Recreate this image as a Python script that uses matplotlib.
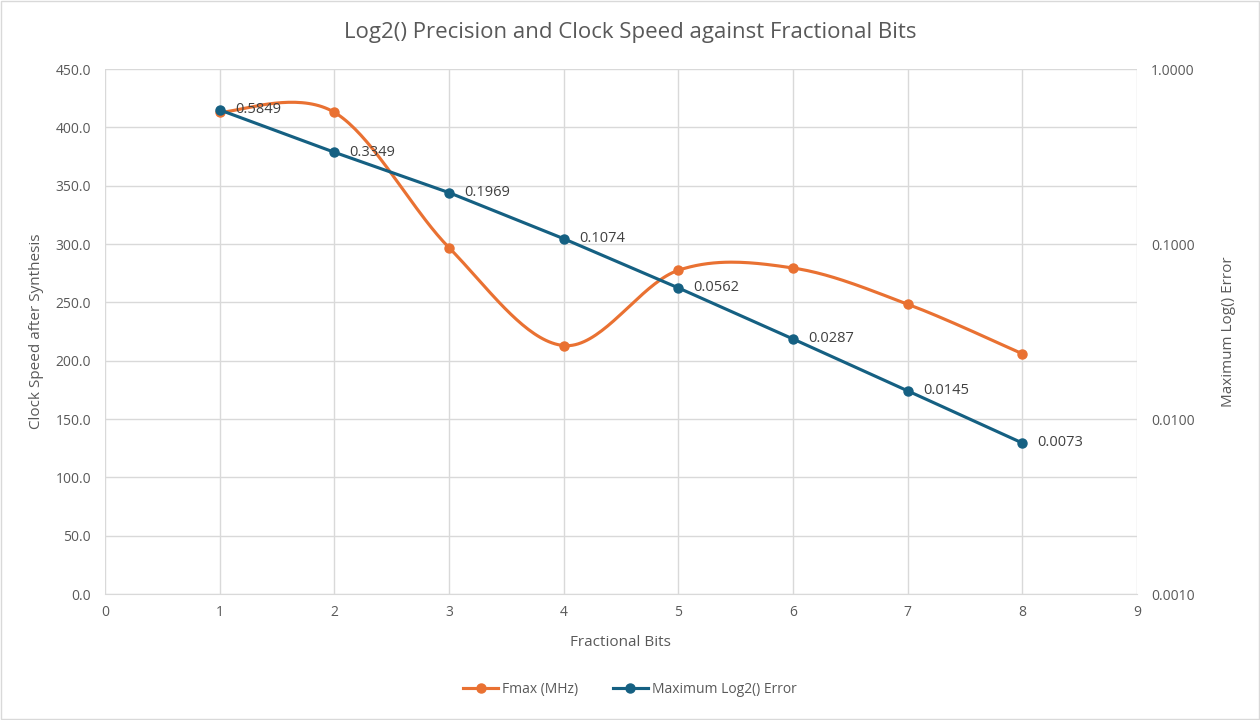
import numpy as np
import matplotlib.pyplot as plt
from matplotlib.ticker import FixedLocator, FuncFormatter
from matplotlib.lines import Line2D
from matplotlib.patches import Rectangle

plt.rcParams['font.family'] = ['Open Sans', 'DejaVu Sans']

# Data
bits = [1, 2, 3, 4, 5, 6, 7, 8]
fmax = [413.0, 413.0, 297.0, 213.0, 277.5, 279.5, 248.5, 206.0]
max_err = [0.5849, 0.3349, 0.1969, 0.1074, 0.0562, 0.0287, 0.0145, 0.0073]

orange = '#E97132'
blue = '#156082'
txt = '#595959'
grid_c = '#D9D9D9'


def excel_smooth(x, y, n=40):
    # Bezier smoothing in the style of Excel's "smoothed line"
    x = np.asarray(x, float)
    y = np.asarray(y, float)
    px = np.concatenate([[x[0]], x, [x[-1]]])
    py = np.concatenate([[y[0]], y, [y[-1]]])
    t = np.linspace(0, 1, n)
    xs, ys = [], []
    for i in range(1, len(px) - 2):
        p0 = np.array([px[i], py[i]])
        p3 = np.array([px[i + 1], py[i + 1]])
        p1 = p0 + (np.array([px[i + 1], py[i + 1]]) - np.array([px[i - 1], py[i - 1]])) / 6
        p2 = p3 - (np.array([px[i + 2], py[i + 2]]) - np.array([px[i], py[i]])) / 6
        b = ((1 - t) ** 3)[:, None] * p0 + (3 * (1 - t) ** 2 * t)[:, None] * p1 \
            + (3 * (1 - t) * t ** 2)[:, None] * p2 + (t ** 3)[:, None] * p3
        xs.append(b[:, 0])
        ys.append(b[:, 1])
    return np.concatenate(xs), np.concatenate(ys)


fig = plt.figure(figsize=(12.6, 7.2), dpi=100)
fig.patches.append(Rectangle((0.001, 0.001), 0.998, 0.998, transform=fig.transFigure,
                             fill=False, edgecolor='#D9D9D9', lw=1))
ax = fig.add_axes([0.0833, 0.175, 0.819, 0.729])
ax2 = ax.twinx()

sx, sy = excel_smooth(bits, fmax)
ax.plot(sx, sy, color=orange, lw=2.25, zorder=3)
ax.plot(bits, fmax, 'o', color=orange, ms=6.5, zorder=4)

ax2.plot(bits, max_err, '-o', color=blue, lw=2.25, ms=6.5, zorder=5)
for b, e in zip(bits, max_err):
    ax2.annotate(f'{e:.4f}', (b, e), xytext=(11, 0), textcoords='offset points',
                 va='center', ha='left', fontsize=10.5, color='#404040')

ax.set_xlim(0, 9)
ax.set_ylim(0, 450)
ax.set_xticks(range(0, 10))
ax.set_yticks(np.arange(0, 451, 50))
ax.yaxis.set_major_formatter(FuncFormatter(lambda v, p: f'{v:.1f}'))
ax.grid(True, color=grid_c, lw=1)
ax.set_axisbelow(True)

ax2.set_yscale('log')
ax2.set_ylim(0.001, 1)
ax2.yaxis.set_major_locator(FixedLocator([0.001, 0.01, 0.1, 1]))
ax2.yaxis.set_minor_locator(FixedLocator([]))
ax2.yaxis.set_major_formatter(FuncFormatter(lambda v, p: f'{v:.4f}'))

for a in (ax, ax2):
    for s in ('top', 'left', 'right'):
        a.spines[s].set_visible(False)
    a.spines['bottom'].set_color(grid_c)
    a.tick_params(length=0, labelsize=10, colors=txt, pad=8)
ax2.spines['bottom'].set_visible(False)
ax.tick_params(axis='y', pad=10)
ax2.tick_params(axis='y', pad=10)

ax.set_xlabel('Fractional Bits', fontsize=11, color=txt, labelpad=11)
ax.set_ylabel('Clock Speed after Synthesis', fontsize=11, color=txt, labelpad=8)
ax2.set_ylabel('Maximum Log() Error', fontsize=11, color=txt, labelpad=19)
fig.suptitle('Log2() Precision and Clock Speed against Fractional Bits',
             fontsize=16, color=txt, y=0.97)

handles = [Line2D([], [], color=orange, lw=2.25, marker='o', ms=6.5),
           Line2D([], [], color=blue, lw=2.25, marker='o', ms=6.5)]
fig.legend(handles, ['Fmax (MHz)', 'Maximum Log2() Error'], loc='center',
           bbox_to_anchor=(0.5, 0.042), ncol=2, frameon=False, fontsize=10,
           labelcolor=txt, handlelength=2.5, handletextpad=0.3, columnspacing=2.5)

fig.savefig('out.png', dpi=100)
